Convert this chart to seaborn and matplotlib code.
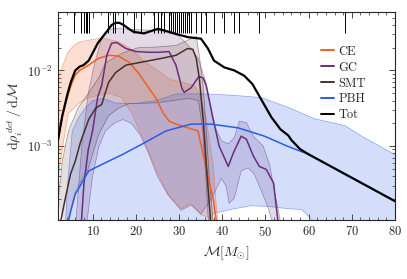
import numpy as np
import pandas as pd
import seaborn as sns
import matplotlib
matplotlib.use("Agg")
import matplotlib.pyplot as plt
from matplotlib.lines import Line2D

# chirp masses of observed events (rug at the top)
rug_x = [5.8, 7.4, 8.1, 8.4, 8.6, 8.8, 9.1, 13.5, 14.7, 15.3, 17.0, 19.5, 21.2,
         24.2, 25.1, 25.8, 26.5, 27.7, 28.1, 28.6, 29.1, 29.5, 30.0, 30.5, 30.9,
         31.4, 31.9, 32.3, 32.8, 34.0, 35.1, 36.3, 38.1, 40.5, 42.8, 44.0, 48.6, 68.4]

# medians (log10 of d rho / dM)
ce_x = [2.0, 3.0, 4.2, 5.0, 6.0, 7.0, 9.1, 11.4, 13.7, 16.0, 18.4, 20.7, 23.0, 24.7,
        26.3, 27.7, 29.3, 32.1, 34.4, 35.8, 37.0, 37.9, 38.6, 39.0]
ce_y = [-2.92, -2.6, -2.35, -2.2, -2.06, -2.0, -1.93, -1.84, -1.8, -1.81, -1.89, -2.04,
        -2.23, -2.37, -2.56, -2.67, -2.71, -2.76, -2.8, -3.16, -3.47, -3.69, -3.97, -4.1]

gc_x = [7.3, 8.0, 9.0, 10.0, 11.2, 12.1, 13.3, 14.4, 15.6, 17.7, 20.0, 23.0, 25.4, 27.7,
        29.3, 30.7, 31.2, 32.8, 34.6, 35.6, 36.3, 37.9, 39.3, 41.4, 42.6, 44.4, 45.6,
        47.2, 48.6, 50.2, 51.9, 52.6, 53.1]
gc_y = [-4.1, -3.5, -3.05, -2.8, -2.35, -2.2, -1.8, -1.64, -1.63, -1.71, -1.75, -1.76,
        -1.76, -1.75, -1.93, -2.24, -2.29, -2.23, -2.08, -2.1, -2.2, -2.64, -3.0, -3.27,
        -3.09, -2.87, -2.91, -3.13, -3.27, -3.31, -3.49, -3.84, -4.1]

smt_x = [2.6, 3.7, 4.9, 6.0, 7.2, 9.1, 10.7, 12.1, 13.7, 15.3, 17.7, 21.4, 26.0, 29.3,
         32.0, 33.2, 34.0, 34.7, 35.6, 36.3, 37.0, 37.5]
smt_y = [-4.0, -3.69, -3.37, -3.2, -2.95, -2.65, -2.5, -2.45, -2.16, -2.03, -1.93, -1.89,
         -1.84, -1.8, -1.71, -1.72, -1.84, -2.1, -2.64, -3.23, -3.76, -4.1]

pbh_x = [4.4, 5.0, 6.0, 7.7, 9.1, 12.3, 17.0, 21.6, 27.0, 32.8, 37.4, 43.7, 49.8, 55.0,
         60.0, 70.0, 80.0]
pbh_y = [-4.0, -3.85, -3.64, -3.47, -3.33, -3.24, -3.11, -2.97, -2.8, -2.71, -2.71,
         -2.76, -2.87, -3.0, -3.11, -3.42, -3.73]

tot_x = [2.0, 3.0, 4.2, 5.0, 6.0, 7.0, 7.9, 9.1, 10.2, 11.2, 12.4, 13.5, 14.4, 15.3,
         16.2, 17.2, 18.4, 19.5, 21.9, 23.5, 25.1, 26.5, 28.8, 32.1, 35.1, 36.7, 38.1,
         40.5, 42.8, 45.1, 47.0, 48.6, 50.2, 51.4, 53.5, 55.3, 56.0, 58.0, 60.0, 70.0, 80.0]
tot_y = [-2.92, -2.6, -2.31, -2.15, -2.0, -1.95, -1.93, -1.87, -1.75, -1.64, -1.55, -1.47,
         -1.4, -1.37, -1.37, -1.4, -1.45, -1.49, -1.51, -1.48, -1.45, -1.47, -1.51, -1.56,
         -1.58, -1.71, -1.87, -1.96, -2.0, -2.07, -2.18, -2.34, -2.5, -2.62, -2.78, -2.86,
         -2.92, -3.04, -3.11, -3.42, -3.73]

# credible bands (upper / lower edges, log10)
ce_up_x = [2.0, 3.0, 4.4, 5.5, 6.7, 9.1, 11.4, 13.0, 16.0, 19.0, 22.0, 25.0, 28.0, 31.0,
           33.5, 34.7, 36.3, 37.9, 38.6, 39.2]
ce_up_y = [-2.12, -1.95, -1.75, -1.68, -1.63, -1.6, -1.58, -1.58, -1.62, -1.72, -1.88,
           -2.0, -2.12, -2.16, -2.2, -2.3, -2.64, -3.23, -3.76, -4.1]
ce_lo_x = [2.0, 2.6, 3.3, 4.4, 6.7, 9.1, 13.7, 16.7, 19.0, 21.9, 24.7, 27.5, 30.5, 32.8,
           35.1, 38.1, 39.2]
ce_lo_y = [-3.45, -3.2, -2.93, -2.57, -2.44, -2.36, -2.3, -2.36, -2.56, -2.93, -3.31,
           -3.64, -3.83, -3.76, -3.91, -3.97, -4.1]

gc_up_x = [6.0, 7.5, 9.0, 10.5, 12.0, 13.5, 15.0, 17.0, 20.0, 24.0, 27.0, 29.0, 31.0,
           33.0, 34.5, 36.3, 38.1, 39.8, 41.4, 42.8, 44.0, 45.6, 47.2, 49.5, 51.0, 52.1,
           53.0, 53.8]
gc_up_y = [-4.1, -3.0, -2.3, -1.9, -1.6, -1.47, -1.44, -1.45, -1.46, -1.47, -1.47, -1.5,
           -1.6, -1.72, -1.85, -2.17, -2.71, -2.93, -2.97, -2.89, -2.67, -2.69, -2.87,
           -3.0, -3.25, -3.6, -3.85, -4.1]
gc_lo_x = [8.5, 10.0, 11.5, 13.0, 15.0, 17.0, 19.0, 21.0, 23.0, 25.0, 27.5, 30.5, 32.8,
           35.1, 37.5, 39.8, 40.9, 41.6, 42.8, 44.4, 46.0, 47.4, 49.1, 50.7, 51.4, 53.8]
gc_lo_y = [-4.1, -3.4, -3.0, -2.8, -2.7, -2.65, -2.7, -2.85, -3.1, -3.4, -3.65, -3.85,
           -3.78, -3.9, -3.7, -3.43, -3.53, -3.76, -3.69, -3.33, -3.29, -3.37, -3.6,
           -3.83, -3.97, -4.1]

smt_up_x = [2.0, 3.0, 4.4, 6.7, 9.1, 11.4, 13.0, 16.9, 20.5, 24.7, 29.3, 32.0, 34.0,
            34.7, 35.6, 36.3, 37.0, 37.9, 38.3]
smt_up_y = [-3.75, -3.2, -2.8, -2.49, -2.3, -2.1, -1.9, -1.77, -1.7, -1.69, -1.67, -1.6,
            -1.55, -1.8, -2.2, -2.77, -3.4, -4.0, -4.1]
smt_lo_x = [3.8, 6.0, 9.0, 11.4, 13.7, 16.0, 18.4, 24.7, 28.5, 32.3, 34.5, 35.5, 36.3, 36.9]
smt_lo_y = [-4.1, -3.6, -3.3, -2.85, -2.6, -2.5, -2.44, -2.43, -2.4, -2.37, -2.4, -2.8,
            -3.5, -4.1]

pbh_up_x = [3.7, 4.2, 5.3, 6.7, 8.4, 10.0, 12.3, 15.3, 19.3, 24.7, 29.3, 35.8, 42.8,
            49.1, 55.3, 61.4, 68.4, 72.3, 80.5]
pbh_up_y = [-4.1, -3.5, -2.8, -2.63, -2.49, -2.4, -2.37, -2.43, -2.44, -2.4, -2.31, -2.31,
            -2.33, -2.36, -2.49, -2.64, -2.73, -2.87, -3.13]
pbh_lo_x = [3.7, 35.1, 38.1, 42.8, 46.7, 50.7, 55.3, 58.4, 60.7, 62.0, 80.5]
pbh_lo_y = [-5.0, -4.1, -3.89, -3.83, -3.79, -3.8, -3.83, -3.84, -3.97, -4.2, -5.0]

colors = {"CE": "#f2601e", "GC": "#6b2d7c", "SMT": "#4b2f2a", "PBH": "#2a5de6", "Tot": "black"}

sns.set_style("ticks")
plt.rcParams["font.family"] = "cmr10"
plt.rcParams["mathtext.fontset"] = "cm"
plt.rcParams["axes.formatter.use_mathtext"] = True
plt.rcParams["axes.unicode_minus"] = False

fig = plt.figure(figsize=(4.07, 2.79), dpi=100)
ax = fig.add_axes([0.1425, 0.2115, 0.8280, 0.7455])
ax.set_yscale("log")

# bands: polygon = upper edge + reversed lower edge
bands = [("CE", ce_up_x, ce_up_y, ce_lo_x, ce_lo_y, 0.2),
         ("SMT", smt_up_x, smt_up_y, smt_lo_x, smt_lo_y, 0.22),
         ("GC", gc_up_x, gc_up_y, gc_lo_x, gc_lo_y, 0.18),
         ("PBH", pbh_up_x, pbh_up_y, pbh_lo_x, pbh_lo_y, 0.2)]
for name, ux, uy, lx, ly, a in bands:
    px = list(ux) + list(lx)[::-1]
    py = list(10 ** np.array(uy)) + list(10 ** np.array(ly))[::-1]
    fc = "#8a7565" if name == "SMT" else colors[name]
    ax.fill(px, py, facecolor=fc, alpha=a, edgecolor="none", zorder=1)
    ax.plot(px, py, color=colors[name], lw=0.5, alpha=0.5, zorder=1.5)

lines = [("CE", ce_x, ce_y, 1.1), ("GC", gc_x, gc_y, 1.1), ("SMT", smt_x, smt_y, 1.1),
         ("PBH", pbh_x, pbh_y, 1.1), ("Tot", tot_x, tot_y, 1.6)]
for name, lx, ly, lw in lines:
    df = pd.DataFrame({"m": lx, "rho": 10 ** np.array(ly)})
    sns.lineplot(data=df, x="m", y="rho", ax=ax, color=colors[name], lw=lw,
                 sort=False, estimator=None, zorder=3)

ax.vlines(rug_x, 0.9, 1.0, transform=ax.get_xaxis_transform(), color="black", lw=0.7, zorder=4)

ax.set_xlim(2, 80)
ax.set_ylim(1.05e-4, 0.0593)
ax.set_xticks([10, 20, 30, 40, 50, 60, 70, 80])
ax.set_xticks(np.arange(2, 81, 2), minor=True)
ax.tick_params(which="both", direction="in", top=True, right=True, labelsize=9)
ax.tick_params(which="major", length=4, width=0.6)
ax.tick_params(which="minor", length=2, width=0.5)
for s in ax.spines.values():
    s.set_linewidth(0.8)

ax.set_xlabel(r"$\mathcal{M}[M_{\odot}]$", fontsize=10, labelpad=4)
ax.set_ylabel(r"$\mathrm{d}\rho_i^{\,det}\,/\,\mathrm{d}\mathcal{M}$", fontsize=10, labelpad=2)

handles = [Line2D([], [], color=colors[n], lw=1.4) for n in ["CE", "GC", "SMT", "PBH", "Tot"]]
ax.legend(handles, ["CE", "GC", "SMT", "PBH", "Tot"], loc="upper left",
          bbox_to_anchor=(0.755, 0.88), frameon=False, fontsize=9,
          handlelength=1.0, handletextpad=0.4, labelspacing=0.3, borderpad=0.2)

fig.savefig("out.png", dpi=100)
